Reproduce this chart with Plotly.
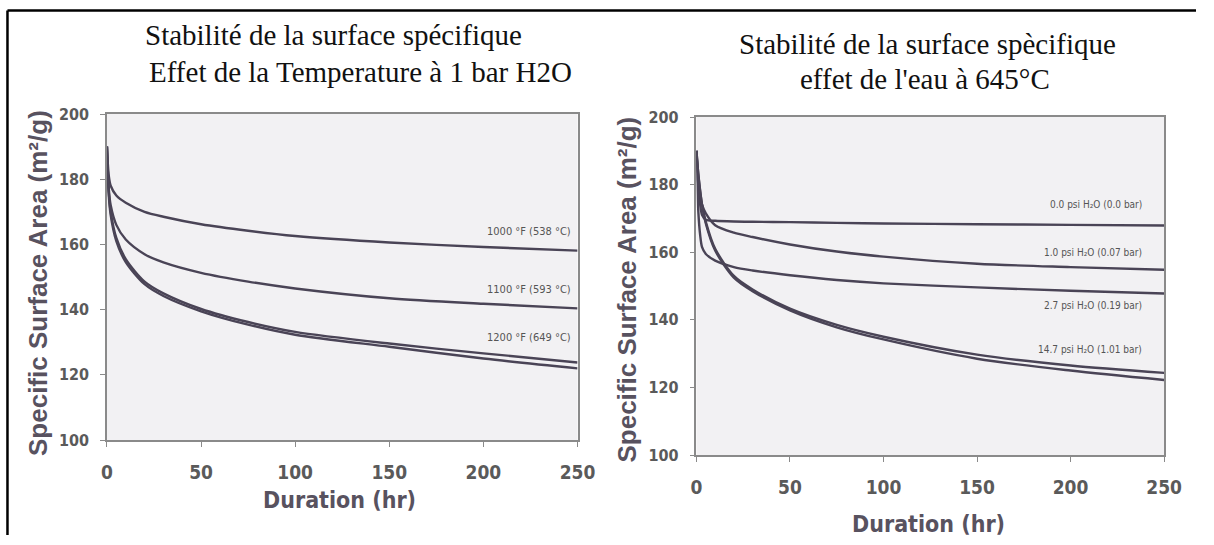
import plotly.graph_objects as go

W, H = 1214, 545

# ---------------- data ----------------
t_left = [0, 1, 2, 5, 10, 20, 30, 50, 75, 100, 150, 200, 250]
sa_1000F = [190, 181, 178, 175, 172.8, 170, 168.5, 166.2, 164.2, 162.6, 160.6, 159.2, 158.1]
sa_1100F = [190, 177, 172, 166, 161.5, 157, 154.5, 151.3, 148.6, 146.5, 143.5, 141.8, 140.4]
sa_1200F_a = [190, 176, 170, 162, 155.5, 148.6, 145, 140.2, 136.2, 133.2, 129.6, 126.6, 123.8]
sa_1200F_b = [190, 175, 169, 161, 154.6, 147.8, 144.2, 139.5, 135.4, 132.3, 128.6, 125.0, 122.0]
labels_left = ["1000 °F (538 °C)", "1100 °F (593 °C)", "1200 °F (649 °C)"]

t_right = [0, 1, 2, 3, 5, 10, 20, 30, 50, 75, 100, 150, 200, 250]
sa_0psi = [190, 180, 174, 171, 169.6, 169.3, 169.1, 169.0, 168.9, 168.7, 168.5, 168.3, 168.1, 167.9]
sa_1psi = [190, 180, 176, 174, 171.5, 168, 165.8, 164.5, 162.3, 160.2, 158.7, 156.6, 155.6, 154.8]
sa_2p7psi = [190, 172, 165, 161.5, 159.5, 157.5, 155.6, 154.6, 153.2, 151.8, 150.8, 149.6, 148.6, 147.8]
sa_14p7psi_a = [190, 183, 178, 174, 169, 161, 153, 149, 143.3, 138.5, 135, 129.7, 126.5, 124.3]
sa_14p7psi_b = [190, 183, 178, 174, 168.5, 160.5, 152.5, 148.5, 142.8, 137.8, 134.2, 128.5, 125, 122.2]
labels_right = ["0.0 psi H₂O (0.0 bar)", "1.0 psi H₂O (0.07 bar)",
                "2.7 psi H₂O (0.19 bar)", "14.7 psi H₂O (1.01 bar)"]

x_ticks = [0, 50, 100, 150, 200, 250]
y_ticks = [100, 120, 140, 160, 180, 200]

# ---------------- style ----------------
LINE_COL = "#4a4456"
AX_COL = "#8a8a8a"
TXT_COL = "#58525f"
BG = "#f2f1f3"
NARROW = "DejaVu Sans Condensed, Liberation Sans Narrow, Arial Narrow, sans-serif"
SERIF = "Liberation Serif, Times New Roman, serif"

# the photographed page is slightly scaled/offset; map target pixel -> page pixel
SX, OX, SY, OY = 0.981, 6.0, 0.965, 9.0


def px(x):
    return ((x - OX) / SX) / W


def py(y):
    return 1 - ((y - OY) / SY) / H


fig = go.Figure()
for s in [sa_1000F, sa_1100F, sa_1200F_a, sa_1200F_b]:
    fig.add_trace(go.Scatter(x=t_left, y=s, mode="lines", xaxis="x", yaxis="y",
                             line=dict(color=LINE_COL, width=2.4, shape="spline", smoothing=0.8),
                             showlegend=False, hoverinfo="skip"))
for s in [sa_0psi, sa_1psi, sa_2p7psi, sa_14p7psi_a, sa_14p7psi_b]:
    fig.add_trace(go.Scatter(x=t_right, y=s, mode="lines", xaxis="x2", yaxis="y2",
                             line=dict(color=LINE_COL, width=2.4, shape="spline", smoothing=0.8),
                             showlegend=False, hoverinfo="skip"))

axis_common = dict(showline=True, linecolor=AX_COL, linewidth=1.5, mirror=True,
                   showgrid=False, zeroline=False, ticks="outside", ticklen=5,
                   tickcolor=AX_COL, tickwidth=1)
xt = dict(axis_common, range=[0, 250], tickvals=x_ticks,
          tickfont=dict(family=NARROW, size=19, color="#5a5a5a", weight="bold"), ticklabelstandoff=9)
yt = dict(axis_common, range=[100, 200], tickvals=y_ticks,
          tickfont=dict(family=NARROW, size=16, color="#5a5a5a", weight="bold"), ticklabelstandoff=8)

fig.update_layout(
    width=W, height=H, margin=dict(l=0, r=0, t=0, b=0),
    paper_bgcolor="white", plot_bgcolor=BG,
    xaxis=dict(xt, domain=[px(107), px(578)], anchor="y"),
    yaxis=dict(yt, domain=[py(440), py(114)], anchor="x"),
    xaxis2=dict(xt, domain=[px(697), px(1165)], anchor="y2"),
    yaxis2=dict(yt, domain=[py(455), py(117)], anchor="x2"),
)

annots = []
annots.append(dict(x=px(143), y=py(35), xanchor="left", text="Stabilité de la surface spécifique",
                   font=dict(family=SERIF, size=29, color="#111")))
annots.append(dict(x=px(147), y=py(72), xanchor="left", text="Effet de la Temperature à 1 bar H2O",
                   font=dict(family=SERIF, size=29, color="#111")))
annots.append(dict(x=px(928), y=py(44), xanchor="center", text="Stabilité de la surface spècifique",
                   font=dict(family=SERIF, size=29, color="#111")))
annots.append(dict(x=px(926), y=py(79), xanchor="center", text="effet de l'eau à 645°C",
                   font=dict(family=SERIF, size=29, color="#111")))
for xc, yc in [(38, 283), (628, 290)]:
    annots.append(dict(x=px(xc), y=py(yc), xanchor="center", textangle=-90,
                       text="Specific Surface Area (m²/g)",
                       font=dict(family="Liberation Sans, Arial, sans-serif", size=26, color=TXT_COL,
                                 weight="bold")))
for xc, yc in [(340, 500), (929, 524)]:
    annots.append(dict(x=px(xc), y=py(yc), xanchor="center", text="Duration (hr)",
                       font=dict(family=NARROW, size=23, color=TXT_COL, weight="bold")))
for lab, yc in zip(labels_left, [231, 289, 337]):
    annots.append(dict(x=px(573), y=py(yc), xanchor="right", text=lab,
                       font=dict(family=NARROW, size=11, color="#555")))
for lab, yc in zip(labels_right, [204, 252, 305, 349]):
    annots.append(dict(x=px(1145), y=py(yc), xanchor="right", text=lab,
                       font=dict(family=NARROW, size=10, color="#555")))
for a in annots:
    a.update(xref="paper", yref="paper", yanchor="middle", showarrow=False)
fig.update_layout(annotations=annots)

# outer frame of the original figure
fig.add_shape(type="line", xref="paper", yref="paper", x0=1.5 / W, x1=1.5 / W, y0=1 - 1.5 / H, y1=0,
              line=dict(color="black", width=2.5))
fig.add_shape(type="line", xref="paper", yref="paper", x0=1.5 / W, x1=1, y0=1 - 1.5 / H, y1=1 - 1.5 / H,
              line=dict(color="black", width=2.5))

fig.write_html("out.html", config={"displayModeBar": False},
               post_script="document.body.style.margin='0';document.body.style.overflow='hidden';")
